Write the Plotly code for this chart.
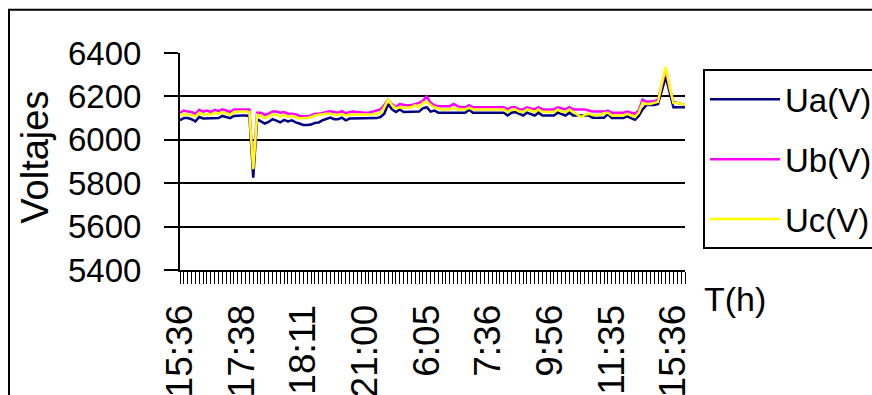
import plotly.graph_objects as go

# Phase voltages sampled over the monitoring period (one value per reading)
ua = [6090, 6100, 6100, 6095, 6085, 6105, 6098, 6098, 6098, 6098, 6100, 6110,
      6105, 6100, 6110, 6112, 6112, 6112, 6110, 5825, 6095, 6085, 6075, 6082,
      6095, 6088, 6080, 6092, 6085, 6090, 6080, 6075, 6068, 6068, 6070, 6078,
      6080, 6090, 6095, 6102, 6095, 6095, 6102, 6090, 6098, 6098, 6098, 6098,
      6098, 6098, 6098, 6100, 6105, 6120, 6165, 6140, 6128, 6140, 6128, 6128,
      6128, 6130, 6130, 6145, 6150, 6130, 6135, 6125, 6125, 6125, 6125, 6125,
      6125, 6125, 6125, 6138, 6125, 6125, 6125, 6125, 6125, 6125, 6125, 6125,
      6125, 6112, 6125, 6128, 6118, 6112, 6125, 6118, 6112, 6125, 6112, 6112,
      6112, 6112, 6125, 6118, 6112, 6125, 6112, 6112, 6112, 6112, 6112, 6102,
      6102, 6102, 6102, 6118, 6100, 6100, 6100, 6100, 6108, 6100, 6092, 6110,
      6140, 6160, 6160, 6160, 6165, 6225, 6290, 6220, 6150, 6150, 6150, 6150]

ub = [6125, 6135, 6130, 6128, 6120, 6138, 6130, 6135, 6128, 6138, 6132, 6140,
      6135, 6128, 6140, 6140, 6140, 6140, 6140, 5870, 6125, 6125, 6115, 6120,
      6130, 6130, 6125, 6128, 6120, 6120, 6118, 6110, 6108, 6108, 6112, 6120,
      6120, 6125, 6130, 6132, 6128, 6125, 6132, 6122, 6128, 6130, 6128, 6125,
      6125, 6125, 6130, 6132, 6140, 6160, 6185, 6165, 6150, 6165, 6160, 6158,
      6160, 6165, 6170, 6180, 6200, 6170, 6160, 6155, 6155, 6155, 6155, 6165,
      6155, 6150, 6150, 6160, 6150, 6150, 6150, 6150, 6150, 6150, 6150, 6150,
      6150, 6140, 6150, 6150, 6140, 6140, 6150, 6145, 6140, 6150, 6140, 6140,
      6140, 6140, 6150, 6145, 6140, 6150, 6140, 6140, 6140, 6140, 6135, 6130,
      6130, 6130, 6130, 6135, 6125, 6125, 6125, 6125, 6130, 6125, 6120, 6135,
      6185, 6175, 6175, 6178, 6185, 6250, 6325, 6240, 6175, 6170, 6165, 6160]

uc = [6110, 6120, 6118, 6112, 6108, 6125, 6115, 6120, 6115, 6125, 6120, 6128,
      6122, 6115, 6128, 6130, 6130, 6130, 6128, 5865, 6115, 6110, 6100, 6108,
      6118, 6115, 6108, 6115, 6105, 6110, 6105, 6098, 6100, 6100, 6105, 6112,
      6115, 6118, 6120, 6120, 6115, 6115, 6118, 6112, 6115, 6118, 6115, 6115,
      6115, 6115, 6118, 6120, 6125, 6150, 6185, 6160, 6145, 6150, 6148, 6148,
      6150, 6160, 6150, 6170, 6175, 6160, 6150, 6145, 6140, 6140, 6140, 6148,
      6140, 6140, 6140, 6148, 6140, 6140, 6140, 6140, 6140, 6140, 6140, 6140,
      6140, 6128, 6140, 6140, 6130, 6128, 6140, 6135, 6128, 6140, 6128, 6128,
      6128, 6128, 6140, 6130, 6128, 6140, 6128, 6115, 6105, 6115, 6120, 6115,
      6112, 6115, 6122, 6125, 6112, 6112, 6112, 6112, 6120, 6112, 6105, 6125,
      6170, 6165, 6165, 6170, 6175, 6260, 6335, 6245, 6170, 6170, 6165, 6160]

# Time labels shown on the category axis, one every LABEL_STEP readings
time_labels = ["15:36", "17:38", "18:11", "21:00", "6:05", "7:36", "9:56", "11:35", "15:36"]
LABEL_STEP = 16

series = [("Ua(V)", ua, "#000080"), ("Ub(V)", ub, "#FF00FF"), ("Uc(V)", uc, "#FFFF00")]

n = len(ua)
idx = list(range(n))
ticktext = []
for i in idx:
    k = i // LABEL_STEP
    ticktext.append(time_labels[k] if i % LABEL_STEP == 0 and k < len(time_labels) else "")

FONT = "Liberation Sans, Arial, sans-serif"

fig = go.Figure()
for g, (name, vals, color) in enumerate(series):
    fig.add_trace(go.Scatter(
        x=idx, y=vals, mode="lines", name=name, legendgroup=str(g),
        line=dict(color=color, width=2.5),
    ))

fig.update_layout(
    width=872, height=395,
    margin=dict(l=180, r=187, t=53, b=125, autoexpand=False),
    paper_bgcolor="white", plot_bgcolor="white",
    font=dict(family=FONT, size=33, color="black"),
    showlegend=True,
    legend=dict(
        x=1.0356, y=0.925, xanchor="left", yanchor="top",
        bordercolor="black", borderwidth=2, bgcolor="white",
        font=dict(family=FONT, size=33, color="black"),
        tracegroupgap=14, itemwidth=70,
    ),
    xaxis=dict(
        range=[0, n - 1], tickmode="array", tickvals=idx, ticktext=ticktext,
        tickangle=-90, ticks="outside", ticklen=12, tickwidth=1, tickcolor="black",
        showgrid=False, zeroline=False, showline=True, linecolor="black", linewidth=2,
        tickfont=dict(family=FONT, size=37, color="black"), automargin=False,
        ticklabelstandoff=6,
    ),
    yaxis=dict(
        range=[5400, 6400], tickvals=[5400, 5600, 5800, 6000, 6200, 6400],
        ticks="outside", ticklen=14, tickwidth=2, tickcolor="black",
        showgrid=True, gridcolor="black", gridwidth=2, zeroline=False,
        showline=True, linecolor="black", linewidth=2,
        tickfont=dict(family=FONT, size=33, color="black"), automargin=False,
        ticklabelstandoff=16,
    ),
    annotations=[
        dict(text="Voltajes", textangle=-90, x=-0.287, y=0.518, xref="paper", yref="paper",
             xanchor="center", yanchor="middle", showarrow=False,
             font=dict(family=FONT, size=38, color="black")),
        dict(text="T(h)", x=1.0337, y=-0.134, xref="paper", yref="paper",
             xanchor="left", yanchor="middle", showarrow=False,
             font=dict(family=FONT, size=34, color="black")),
    ],
    shapes=[
        # chart frame (runs past the right and bottom edges of the page)
        dict(type="rect", xref="paper", yref="paper", x0=-0.3386, y0=-0.7, x1=1.4, y1=1.199,
             line=dict(color="black", width=2), fillcolor="rgba(0,0,0,0)", layer="below"),
    ],
)

fig.write_html("out.html")
